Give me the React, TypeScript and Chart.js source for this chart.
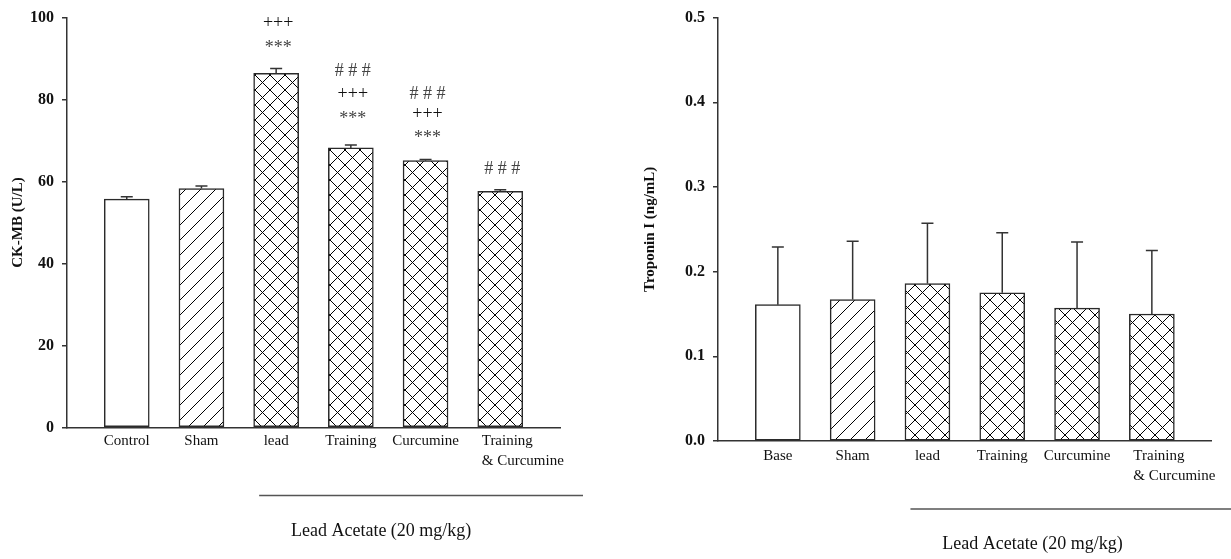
import React, { useEffect, useRef } from 'react';
import { Chart, registerables } from 'chart.js';

Chart.register(...registerables);

// ---------- data ----------
const ckCategories: string[][] = [['Control'], ['Sham'], ['lead'], ['Training'], ['Curcumine'], ['Training', '& Curcumine']];
const ckValues = [55.7, 58.3, 86.4, 68.2, 65.1, 57.6];
const ckErrors = [0.6, 0.6, 1.2, 0.7, 0.3, 0.4];
const ckTicks = [0, 20, 40, 60, 80, 100];
const ckTickLabels = ['0', '20', '40', '60', '80', '100'];
const ckAnnotations = [
  { index: 2, text: '+++', y: 98.6 },
  { index: 2, text: '***', y: 92.5 },
  { index: 3, text: '# # #', y: 86.9 },
  { index: 3, text: '+++', y: 81.2 },
  { index: 3, text: '***', y: 75.3 },
  { index: 4, text: '# # #', y: 81.2 },
  { index: 4, text: '+++', y: 76.5 },
  { index: 4, text: '***', y: 70.5 },
  { index: 5, text: '# # #', y: 62.9 },
];

const tnCategories: string[][] = [['Base'], ['Sham'], ['lead'], ['Training'], ['Curcumine'], ['Training', '& Curcumine']];
const tnValues = [0.161, 0.167, 0.186, 0.175, 0.157, 0.15];
const tnErrors = [0.068, 0.069, 0.071, 0.071, 0.078, 0.075];
const tnTicks = [0, 0.1, 0.2, 0.3, 0.4, 0.5];
const tnTickLabels = ['0.0', '0.1', '0.2', '0.3', '0.4', '0.5'];

const fillKinds = ['plain', 'slash', 'cross', 'cross', 'cross', 'cross'];
const groupStartIndex = 2;
const groupLabel = 'Lead Acetate (20 mg/kg)';

// ---------- styles ----------
const SERIF = '"Liberation Serif", "Times New Roman", serif';
const BAR = 45;

function makePattern(kind: string, size: number): CanvasPattern | string {
  if (kind === 'plain') return '#ffffff';
  const c = document.createElement('canvas');
  c.width = size;
  c.height = size;
  const g = c.getContext('2d')!;
  g.fillStyle = '#fff';
  g.fillRect(0, 0, size, size);
  g.strokeStyle = '#000';
  g.lineWidth = 1;
  g.beginPath();
  g.moveTo(0, size); g.lineTo(size, 0);
  g.moveTo(-1, 1); g.lineTo(1, -1);
  g.moveTo(size - 1, size + 1); g.lineTo(size + 1, size - 1);
  if (kind === 'cross') {
    g.moveTo(0, 0); g.lineTo(size, size);
    g.moveTo(-1, size - 1); g.lineTo(1, size + 1);
    g.moveTo(size - 1, -1); g.lineTo(size + 1, 1);
  }
  g.stroke();
  return g.createPattern(c, 'repeat')!;
}

interface PanelSpec {
  categories: string[][];
  values: number[];
  errors: number[];
  ticks: number[];
  tickLabels: string[];
  annotations: { index: number; text: string; y: number }[];
  title: string;
  titlePad: number;
  yAxisWidth: number;
  padRight: number;
  xAxisHeight: number;
  labelOffset: number;
}

function createPanel(canvas: HTMLCanvasElement, spec: PanelSpec) {
  const bg = spec.values.map((_, i) => makePattern(fillKinds[i], 15));

  const overlay = {
    id: 'overlay',
    afterDatasetsDraw(chart: any) {
      const { ctx, scales } = chart;
      const x = scales.x, y = scales.y;
      ctx.save();
      ctx.strokeStyle = '#333';
      ctx.lineWidth = 1.5;
      spec.values.forEach((v, i) => {
        const px = x.getPixelForValue(i);
        const y0 = y.getPixelForValue(v);
        const y1 = y.getPixelForValue(v + spec.errors[i]);
        ctx.beginPath();
        ctx.moveTo(px, y0);
        ctx.lineTo(px, y1);
        ctx.moveTo(px - 6, y1);
        ctx.lineTo(px + 6, y1);
        ctx.stroke();
      });
      ctx.textAlign = 'center';
      ctx.textBaseline = 'middle';
      ctx.font = `18px ${SERIF}`;
      spec.annotations.forEach((a) => {
        ctx.fillStyle = a.text === '+++' ? '#111' : '#444';
        ctx.fillText(a.text, x.getPixelForValue(a.index) + 2, y.getPixelForValue(a.y));
      });
      ctx.restore();
    },
    afterDraw(chart: any) {
      const { ctx, chartArea, scales } = chart;
      const x = scales.x;
      const bottom = chartArea.bottom;
      ctx.save();
      ctx.fillStyle = '#111';
      ctx.textBaseline = 'middle';
      ctx.font = `15px ${SERIF}`;
      spec.categories.forEach((lines, i) => {
        const px = x.getPixelForValue(i);
        if (lines.length === 1) {
          ctx.textAlign = 'center';
          ctx.fillText(lines[0], px, bottom + spec.labelOffset);
        } else {
          ctx.textAlign = 'left';
          lines.forEach((l, j) => ctx.fillText(l, px - BAR / 2 + 4, bottom + spec.labelOffset + j * 20));
        }
      });
      const start = x.getPixelForValue(groupStartIndex) - 17;
      ctx.strokeStyle = '#555';
      ctx.lineWidth = 1.5;
      ctx.beginPath();
      ctx.moveTo(start, bottom + 68);
      ctx.lineTo(chartArea.right + 23, bottom + 68);
      ctx.stroke();
      ctx.font = `18px ${SERIF}`;
      ctx.textAlign = 'center';
      ctx.fillText(groupLabel, start + 122, bottom + 103.5);
      ctx.restore();
    },
  };

  return new Chart(canvas, {
    type: 'bar',
    data: {
      datasets: [
        {
          data: spec.values.map((v, i) => ({ x: i, y: v })),
          backgroundColor: bg as any,
          borderColor: '#2a2a2a',
          borderWidth: 1.5,
          borderSkipped: false,
          barThickness: BAR,
        },
      ],
    },
    options: {
      animation: false,
      responsive: false,
      devicePixelRatio: 1,
      layout: { padding: { left: 0, top: 17, right: spec.padRight, bottom: 0 } },
      plugins: { legend: { display: false }, tooltip: { enabled: false }, title: { display: false } },
      scales: {
        x: {
          type: 'linear',
          offset: false,
          min: -0.8,
          max: 5.8,
          grid: { display: false, offset: false },
          border: { display: true, color: '#333', width: 1.5 },
          ticks: { display: false },
          afterFit: (axis: any) => { axis.height = spec.xAxisHeight; },
        },
        y: {
          type: 'linear',
          min: spec.ticks[0],
          max: spec.ticks[spec.ticks.length - 1],
          afterBuildTicks: (axis: any) => { axis.ticks = spec.ticks.map((v) => ({ value: v })); },
          grid: { drawOnChartArea: false, drawTicks: true, tickLength: 5, color: '#333', lineWidth: 1.5 },
          border: { display: true, color: '#333', width: 1.5 },
          ticks: {
            padding: 8,
            color: '#111',
            font: { family: SERIF, size: 16, weight: 'bold' },
            callback: (_v: any, i: number) => spec.tickLabels[i],
          },
          title: {
            display: true,
            text: spec.title,
            color: '#111',
            font: { family: SERIF, size: 15, weight: 'bold' },
            padding: { top: spec.titlePad, bottom: 0 },
          },
          afterFit: (axis: any) => { axis.width = spec.yAxisWidth; },
        },
      },
    },
    plugins: [overlay],
  } as any);
}

export default function App() {
  const leftRef = useRef<HTMLCanvasElement>(null);
  const rightRef = useRef<HTMLCanvasElement>(null);

  useEffect(() => {
    const left = createPanel(leftRef.current!, {
      categories: ckCategories,
      values: ckValues,
      errors: ckErrors,
      ticks: ckTicks,
      tickLabels: ckTickLabels,
      annotations: ckAnnotations,
      title: 'CK-MB (U/L)',
      titlePad: 9,
      yAxisWidth: 67,
      padRight: 55,
      xAxisHeight: 131.5,
      labelOffset: 14,
    });
    const right = createPanel(rightRef.current!, {
      categories: tnCategories,
      values: tnValues,
      errors: tnErrors,
      ticks: tnTicks,
      tickLabels: tnTickLabels,
      annotations: [],
      title: 'Troponin I (ng/mL)',
      titlePad: 26,
      yAxisWidth: 103,
      padRight: 19.3,
      xAxisHeight: 118,
      labelOffset: 15.5,
    });
    return () => {
      left.destroy();
      right.destroy();
    };
  }, []);

  return (
    <div style={{ position: 'fixed', left: 0, top: 0, width: 1231, height: 559, background: '#fff' }}>
      <canvas ref={leftRef} width={615} height={559} style={{ position: 'absolute', left: 0, top: 0 }} />
      <canvas ref={rightRef} width={616} height={559} style={{ position: 'absolute', left: 615, top: 0 }} />
    </div>
  );
}
